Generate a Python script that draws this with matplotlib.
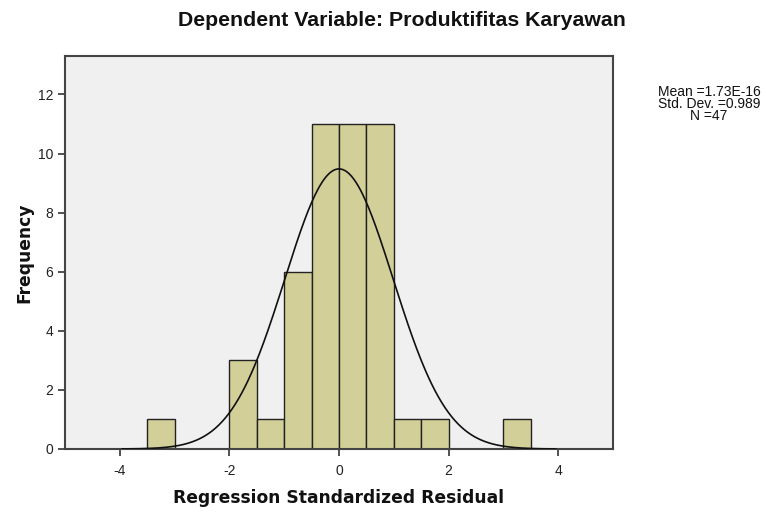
import numpy as np
import matplotlib
matplotlib.use("Agg")
import matplotlib.pyplot as plt

plt.rcParams['font.family'] = ['Liberation Sans', 'DejaVu Sans']
plt.rcParams['axes.unicode_minus'] = False

# histogram bins (width 0.5) and counts
bin_edges = [-3.5, -3.0, -2.5, -2.0, -1.5, -1.0, -0.5, 0.0, 0.5, 1.0, 1.5, 2.0, 2.5, 3.0, 3.5]
counts = [1, 0, 0, 3, 1, 6, 11, 11, 11, 1, 1, 0, 0, 1]
mean = 1.73e-16
std = 0.989
n = 47

fig = plt.figure(figsize=(7.66, 5.14), dpi=100)
ax = fig.add_axes([65/766, 1 - 449/514, 548/766, (449 - 56)/514])
ax.set_facecolor('#f0f0f0')

lefts = bin_edges[:-1]
widths = np.diff(bin_edges)
for x0, w, c in zip(lefts, widths, counts):
    if c > 0:
        ax.bar(x0, c, width=w, align='edge', color='#d3cf98', edgecolor='#222222', linewidth=1.0, zorder=2)

# normal curve scaled to counts
bw = 0.5
xs = np.linspace(mean - 4 * std, mean + 4 * std, 400)
ys = n * bw / (std * np.sqrt(2 * np.pi)) * np.exp(-0.5 * ((xs - mean) / std) ** 2)
ax.plot(xs, ys, color='#111111', linewidth=1.2, zorder=3)

ax.set_xlim(-5, 5)
ax.set_ylim(0, 13.3)
ax.set_xticks([-4, -2, 0, 2, 4])
ax.set_yticks([0, 2, 4, 6, 8, 10, 12])
ax.tick_params(labelsize=10, length=5, width=1.2, color='#333333', labelcolor='#222222')
ax.tick_params(axis='x', pad=6)
for s in ax.spines.values():
    s.set_color('#444444')
    s.set_linewidth(1.5)

ax.set_xlabel('Regression Standardized Residual', fontsize=12.3, fontweight='bold',
              family=['DejaVu Sans'], labelpad=8, color='#111111')
ax.set_ylabel('Frequency', fontsize=12.3, fontweight='bold',
              family=['DejaVu Sans'], labelpad=3, color='#111111')
fig.text(402/766, 1 - 21/514, 'Dependent Variable: Produktifitas Karyawan', fontsize=15.3,
         fontweight='bold', ha='center', va='center', color='#111111')

fig.text(709/766, 1 - 104/514, 'Mean =1.73E-16\nStd. Dev. =0.989\nN =47', fontsize=10,
         ha='center', va='center', linespacing=0.85, color='#111111')

fig.savefig('out.png', dpi=100)
